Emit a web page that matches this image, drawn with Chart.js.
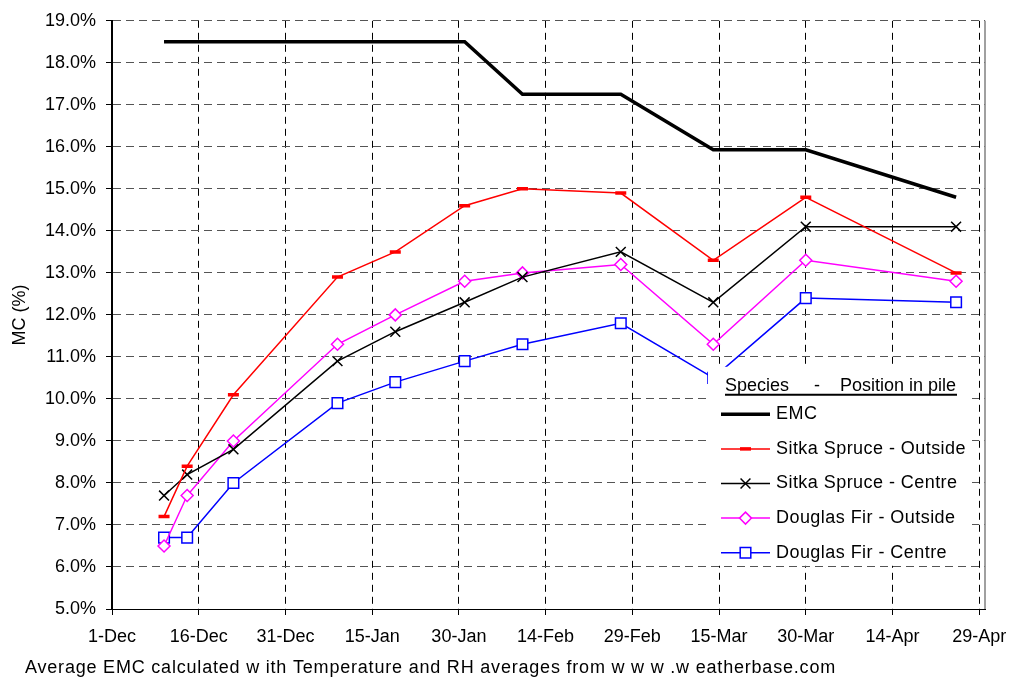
<!DOCTYPE html>
<html lang="en">
<head>
  <meta charset="UTF-8">
  <title>Moisture content of stacked timber</title>
  <script src="https://cdn.jsdelivr.net/npm/chart.js"></script>
  <style>
    body {
      margin: 0;
      background: #fff;
    }
    #wrap {
      width: 1013px;
      height: 679px;
    }
  </style>
</head>
<body>
  <div id="wrap"><canvas id="mcChart" width="1013" height="679"></canvas></div>

  <script>
    // sample dates (winter 2007/08), day 0 = 1 Dec
    const startDate = "2007-12-01";
    const sampleDates = ["2007-12-10", "2007-12-14", "2007-12-22", "2008-01-09", "2008-01-19", "2008-01-31",
                         "2008-02-10", "2008-02-27", "2008-03-14", "2008-03-30", "2008-04-25"];
    const tickLabels = ["1-Dec", "16-Dec", "31-Dec", "15-Jan", "30-Jan", "14-Feb", "29-Feb", "15-Mar", "30-Mar", "14-Apr", "29-Apr"];

    const emc = [18.5, 18.5, 18.5, 18.5, 18.5, 18.5, 17.25, 17.25, 15.93, 15.93, 14.8];
    const sitkaOutside = [7.2, 8.4, 10.1, 12.9, 13.5, 14.6, 15.0, 14.9, 13.3, 14.8, 13.0];
    const sitkaCentre = [7.7, 8.2, 8.8, 10.9, 11.6, 12.3, 12.9, 13.5, 12.3, 14.1, 14.1];
    const douglasOutside = [6.5, 7.7, 9.0, 11.3, 12.0, 12.8, 13.0, 13.2, 11.3, 13.3, 12.8];
    const douglasCentre = [6.7, 6.7, 8.0, 9.9, 10.4, 10.9, 11.3, 11.8, 10.5, 12.4, 12.3];

    const legendTitle = "Species     -    Position in pile";
    const footnote = "Average EMC calculated w ith Temperature and RH averages from w w w .w eatherbase.com";

    const dayOf = (d) => Math.round((Date.parse(d) - Date.parse(startDate)) / 86400000);
    const days = sampleDates.map(dayOf);
    const pts = (vals) => vals.map((v, i) => ({ x: days[i], y: v }));

    Chart.defaults.font.family = '"Liberation Sans", Arial, sans-serif';
    Chart.defaults.font.size = 18;
    Chart.defaults.color = "#000";

    // grey frame line on the right of the plot
    const framePlugin = {
      id: "frame",
      beforeDatasetsDraw(chart) {
        const { ctx, chartArea } = chart;
        ctx.save();
        ctx.strokeStyle = "#808080";
        ctx.lineWidth = 1.5;
        ctx.beginPath();
        ctx.moveTo(chartArea.right, chartArea.top);
        ctx.lineTo(chartArea.right, chartArea.bottom);
        ctx.stroke();
        ctx.restore();
      }
    };

    // boxed legend inside the plot, with underlined heading
    const boxLegend = {
      id: "boxLegend",
      afterDatasetsDraw(chart) {
        const { ctx, chartArea } = chart;
        const left = chartArea.right - 277;
        const top = chartArea.top + 346;
        ctx.save();
        ctx.fillStyle = "#fff";
        ctx.fillRect(left, top, 264, 199);

        ctx.fillStyle = "#000";
        ctx.font = '18px "Liberation Sans", Arial, sans-serif';
        ctx.textAlign = "left";
        ctx.textBaseline = "alphabetic";
        ctx.fillText(legendTitle, left + 17, top + 24);
        ctx.lineWidth = 2;
        ctx.strokeStyle = "#000";
        ctx.beginPath();
        ctx.moveTo(left + 17, top + 28);
        ctx.lineTo(left + 249, top + 28);
        ctx.stroke();

        ctx.textBaseline = "middle";
        ctx.letterSpacing = "0.45px";
        chart.data.datasets.forEach((ds, i) => {
          const y = top + 47.5 + i * 34.6;
          ctx.strokeStyle = ds.borderColor;
          ctx.lineWidth = ds.borderWidth;
          ctx.beginPath();
          ctx.moveTo(left + 13, y);
          ctx.lineTo(left + 62, y);
          ctx.stroke();
          if (ds.pointRadius > 0) {
            ctx.fillStyle = ds.pointBackgroundColor;
            ctx.strokeStyle = ds.borderColor;
            ctx.lineWidth = ds.pointBorderWidth;
            Chart.helpers.drawPoint(ctx, {
              pointStyle: ds.pointStyle,
              radius: ds.pointRadius,
              borderWidth: ds.pointBorderWidth,
              rotation: 0
            }, left + 37.5, y);
          }
          ctx.fillStyle = "#000";
          ctx.fillText(ds.label, left + 68, y);
        });
        ctx.restore();
      },
      afterDraw(chart) {
        const { ctx } = chart;
        ctx.save();
        ctx.fillStyle = "#000";
        ctx.font = '18px "Liberation Sans", Arial, sans-serif';
        ctx.letterSpacing = "0.8px";
        ctx.textAlign = "left";
        ctx.textBaseline = "alphabetic";
        ctx.fillText(footnote, 25, 673);
        ctx.restore();
      }
    };

    const ctx = document.getElementById("mcChart").getContext("2d");
    new Chart(ctx, {
      type: "line",
      data: {
        datasets: [
          {
            label: "EMC",
            data: pts(emc),
            borderColor: "#000",
            borderWidth: 3.5,
            pointRadius: 0
          },
          {
            label: "Sitka Spruce - Outside",
            data: pts(sitkaOutside),
            borderColor: "#ff0000",
            borderWidth: 1.5,
            pointStyle: "line",
            pointRadius: 5.5,
            pointBorderWidth: 3.5,
            pointBackgroundColor: "#ff0000"
          },
          {
            label: "Sitka Spruce - Centre",
            data: pts(sitkaCentre),
            borderColor: "#000",
            borderWidth: 1.5,
            pointStyle: "crossRot",
            pointRadius: 7,
            pointBorderWidth: 1.5,
            pointBackgroundColor: "#000"
          },
          {
            label: "Douglas Fir - Outside",
            data: pts(douglasOutside),
            borderColor: "#ff00ff",
            borderWidth: 1.5,
            pointStyle: "rectRot",
            pointRadius: 6,
            pointBorderWidth: 1.5,
            pointBackgroundColor: "#fff"
          },
          {
            label: "Douglas Fir - Centre",
            data: pts(douglasCentre),
            borderColor: "#0000ff",
            borderWidth: 1.5,
            pointStyle: "rect",
            pointRadius: 7.5,
            pointBorderWidth: 1.5,
            pointBackgroundColor: "#fff"
          }
        ]
      },
      options: {
        responsive: false,
        animation: false,
        events: [],
        layout: { padding: { left: 0, right: 28, top: 20, bottom: 0 } },
        elements: { line: { tension: 0 } },
        plugins: {
          legend: { display: false },
          tooltip: { enabled: false }
        },
        scales: {
          x: {
            type: "linear",
            min: 0,
            max: 151,
            // one tick every 15 days, labelled from tickLabels
            afterBuildTicks: (axis) => {
              axis.ticks = tickLabels.map((_, i) => ({ value: i * 15 }));
            },
            afterFit: (axis) => {
              axis.height = 70;
              axis.paddingLeft = 0;
              axis.paddingRight = 0;
            },
            ticks: {
              autoSkip: false,
              maxRotation: 0,
              padding: 11,
              callback: (v) => tickLabels[v / 15]
            },
            grid: { color: "#000", tickColor: "#000", tickLength: 6, lineWidth: 1 },
            border: { color: "#000", width: 1, dash: [7, 5] }
          },
          y: {
            min: 5,
            max: 19,
            afterFit: (axis) => { axis.width = 112; },
            ticks: {
              stepSize: 1,
              padding: 10,
              callback: (v) => v.toFixed(1) + "%"
            },
            grid: { color: "#555", tickColor: "#000", tickLength: 6, lineWidth: 1 },
            border: { color: "#000", width: 2, dash: [8, 5] },
            title: { display: true, text: "MC (%)", padding: { top: 9 } }
          }
        }
      },
      plugins: [framePlugin, boxLegend]
    });
  </script>
</body>
</html>
